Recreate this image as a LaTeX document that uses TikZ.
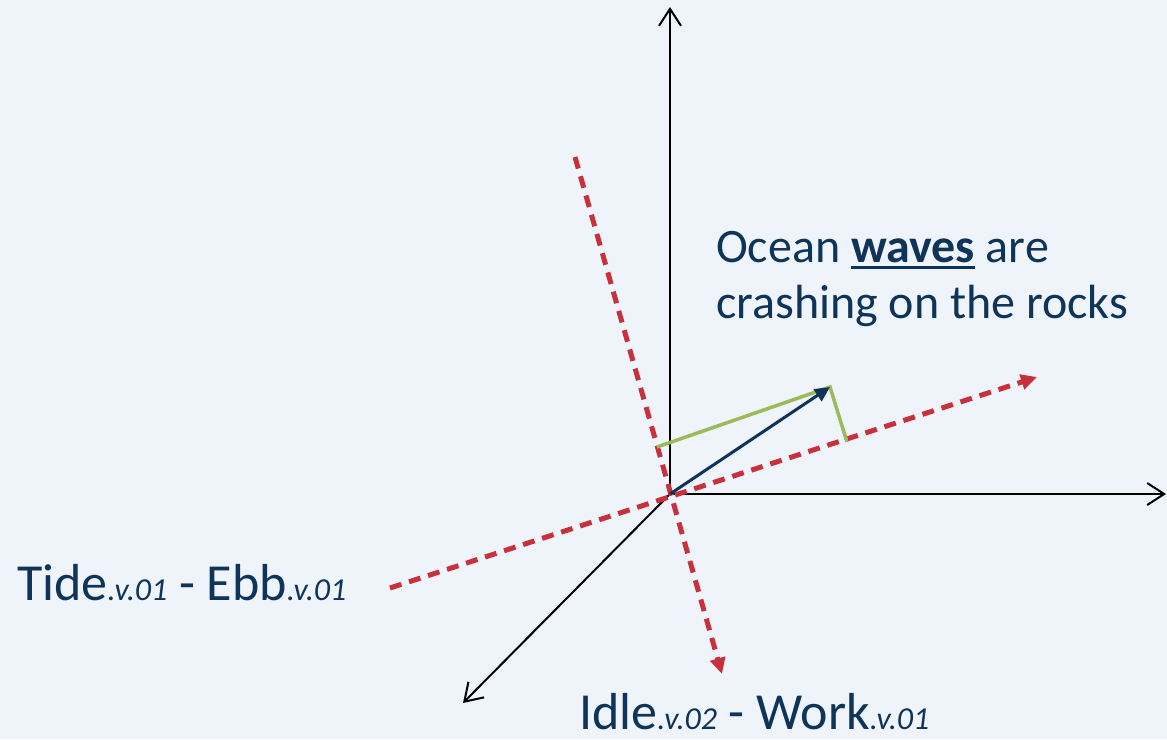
\documentclass[tikz,border=0pt]{standalone}
\usepackage{fontspec}
\setmainfont{Carlito}
\usetikzlibrary{arrows.meta}
\definecolor{bgpane}{RGB}{239,243,250}
\definecolor{navy}{RGB}{14,52,89}
\definecolor{dimred}{RGB}{200,49,59}
\definecolor{leaf}{RGB}{155,187,89}
\newcommand{\sns}[1]{{\fontsize{32}{32}\selectfont\itshape #1}}
\newcommand{\ulword}[1]{\setbox0\hbox{#1}\rlap{\raisebox{-7pt}{\rule{\wd0}{3pt}}}\box0\relax}

\begin{document}
\begin{tikzpicture}[x=1pt,y=-1pt,
  axis/.style={line width=2pt,-{Straight Barb[length=17pt,width=22pt]}},
  sense/.style={dimred,line width=5pt,dash pattern=on 12pt off 8pt,-{Triangle[length=16pt,width=15pt]}},
  proj/.style={leaf,line width=3.5pt},
  lbl/.style={navy,inner sep=0pt,anchor=base west}]
  \fill[bgpane] (0,0) rectangle (1167,739);
  \useasboundingbox (0,0) rectangle (1167,739);
  % axes
  \coordinate (O) at (670,494);
  \coordinate (xend) at (1166,494);
  \coordinate (yend) at (670,7);
  \coordinate (zend) at (463,703);
  \draw[axis] (O) -- (xend);
  \draw[axis] (O) -- (yend);
  \draw[axis] (O) -- (zend);
  % sense directions
  \coordinate (tideS) at (390,588);
  \coordinate (tideE) at (1037,377);
  \coordinate (idleS) at (575,157);
  \coordinate (idleE) at (722,674);
  \draw[sense] (tideS) -- (tideE);
  \draw[sense] (idleS) -- (idleE);
  % word vector and its projections
  \coordinate (v) at (830,387);
  \coordinate (pIdle) at (657,447);
  \coordinate (pTide) at (847,442);
  \draw[proj] (pIdle) -- (v) -- (pTide);
  \draw[navy,line width=3pt,-{Triangle[length=15pt,width=14pt]}] (O) -- (v);
  % labels
  \node[lbl,font=\fontsize{48}{56}\selectfont] (wave1) at (716,262) {Ocean \ulword{\textbf{waves}} are};
  \node[lbl,font=\fontsize{48}{56}\selectfont] (wave2) at (716,318) {crashing on the rocks};
  \node[lbl,font=\fontsize{52}{60}\selectfont] (tide) at (17,600) {Tide\sns{.v.01} - Ebb\sns{.v.01}};
  \node[lbl,font=\fontsize{52}{60}\selectfont,text depth=0pt] (idle) at (579,729) {Idle\sns{.v.02} - Work\sns{.v.01}};
\end{tikzpicture}
\end{document}
